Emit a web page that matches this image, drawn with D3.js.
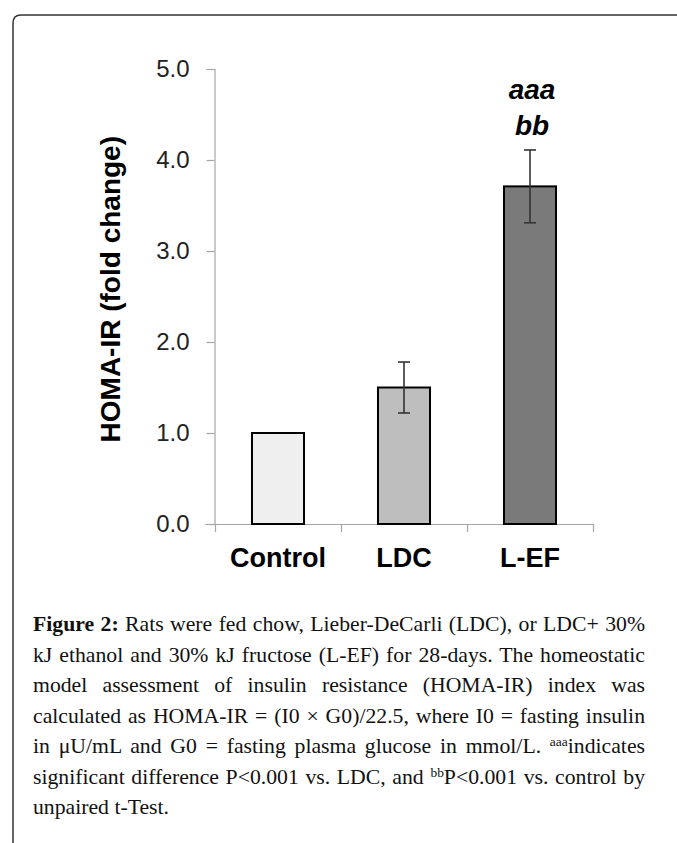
<!DOCTYPE html>
<html>
<head>
<meta charset="utf-8">
<script src="https://cdn.jsdelivr.net/npm/d3@7"></script>
<style>
  body { margin: 0; background: #fff; }
  svg { display: block; }
</style>
</head>
<body>
<svg width="677" height="843"></svg>
<script>
// chart data
var categories = ["Control", "LDC", "L-EF"];
var means = [1.0, 1.5, 3.71];
var errors = [0, 0.28, 0.4];
var fills = ["#efefef", "#bebebe", "#7a7a7a"];
var yTicks = [0, 1, 2, 3, 4, 5];
var sigMarks = ["", "", "aaa|bb"];

// caption, one entry per printed line
var captionLines = [
  [{t: "Figure 2:", b: true}, {t: " Rats were fed chow, Lieber-DeCarli (LDC), or LDC+ 30%"}],
  [{t: "kJ ethanol and 30% kJ fructose (L-EF) for 28-days. The homeostatic"}],
  [{t: "model assessment of insulin resistance (HOMA-IR) index was"}],
  [{t: "calculated as HOMA-IR = (I0 \u00d7 G0)/22.5, where I0 = fasting insulin"}],
  [{t: "in \u03bcU/mL and G0 = fasting plasma glucose in mmol/L. "}, {t: "aaa", sup: true}, {t: "indicates"}],
  [{t: "significant difference P<0.001 vs. LDC, and "}, {t: "bb", sup: true}, {t: "P<0.001 vs. control by"}],
  [{t: "unpaired t-Test."}]
];

var svg = d3.select("svg");

// frame round the figure (open on right and bottom)
svg.append("path")
  .attr("d", "M13,843 L13,23 Q13,15 21,15 L677,15")
  .attr("fill", "none")
  .attr("stroke", "#333")
  .attr("stroke-width", 1.5);

var y = d3.scaleLinear().domain([0, 5]).range([524, 69]);
var xAxisBand = d3.scaleBand().domain(categories).range([215, 593]);
var x = d3.scaleBand().domain(categories).range([215, 593])
  .paddingInner(0.587).paddingOuter(0.2935);

var axisColor = "#a6a6a6";

// y axis
var yAxis = svg.append("g")
  .attr("transform", "translate(214.5,0)")
  .call(d3.axisLeft(y).tickValues(yTicks).tickFormat(d3.format(".1f")).tickSize(8).tickPadding(17));
yAxis.select(".domain").attr("stroke", axisColor).attr("stroke-width", 1.2);
yAxis.selectAll(".tick line").attr("stroke", axisColor).attr("stroke-width", 1.2);
yAxis.selectAll(".tick text")
  .attr("fill", "#222")
  .style("font-family", "'Liberation Sans', Arial, sans-serif")
  .style("font-size", "24px");

// x axis with ticks at band edges
var edges = categories.map(function(c){ return xAxisBand(c); }).concat([xAxisBand.range()[1]]);
svg.append("line")
  .attr("x1", 205).attr("x2", xAxisBand.range()[1])
  .attr("y1", y(0) + 0.5).attr("y2", y(0) + 0.5)
  .attr("stroke", axisColor).attr("stroke-width", 1.2);
svg.selectAll(".xtick")
  .data(edges)
  .enter()
  .append("line")
  .attr("class", "xtick")
  .attr("x1", function(d){ return d + 0.5; })
  .attr("x2", function(d){ return d + 0.5; })
  .attr("y1", y(0))
  .attr("y2", y(0) + 8)
  .attr("stroke", axisColor).attr("stroke-width", 1.2);

svg.selectAll(".xlabel")
  .data(categories)
  .enter()
  .append("text")
  .attr("class", "xlabel")
  .attr("x", function(d){ return xAxisBand(d) + xAxisBand.bandwidth() / 2; })
  .attr("y", 567)
  .attr("text-anchor", "middle")
  .style("font-family", "'Liberation Sans', Arial, sans-serif")
  .style("font-weight", "bold")
  .style("font-size", "27px")
  .text(function(d){ return d; });

// y title
svg.append("text")
  .attr("transform", "translate(120," + y(2.58) + ") rotate(-90)")
  .attr("text-anchor", "middle")
  .style("font-family", "'Liberation Sans', Arial, sans-serif")
  .style("font-weight", "bold")
  .style("font-size", "28px")
  .text("HOMA-IR (fold change)");

// bars
svg.selectAll(".bar")
  .data(categories)
  .enter()
  .append("rect")
  .attr("class", "bar")
  .attr("x", function(d){ return x(d); })
  .attr("width", x.bandwidth())
  .attr("y", function(d, i){ return y(means[i]); })
  .attr("height", function(d, i){ return y(0) - y(means[i]); })
  .attr("fill", function(d, i){ return fills[i]; })
  .attr("stroke", "#000")
  .attr("stroke-width", 2);

// error bars
var errG = svg.selectAll(".err")
  .data(categories.filter(function(d, i){ return errors[i] > 0; }))
  .enter()
  .append("g")
  .attr("class", "err")
  .attr("stroke", "#333")
  .attr("stroke-width", 1.6);
function idx(d){ return categories.indexOf(d); }
function cx(d){ return x(d) + x.bandwidth() / 2; }
errG.append("line")
  .attr("x1", cx).attr("x2", cx)
  .attr("y1", function(d){ return y(means[idx(d)] + errors[idx(d)]); })
  .attr("y2", function(d){ return y(means[idx(d)] - errors[idx(d)]); });
errG.selectAll(".cap")
  .data(function(d){ return [[d, 1], [d, -1]]; })
  .enter()
  .append("line")
  .attr("x1", function(p){ return cx(p[0]) - 6; })
  .attr("x2", function(p){ return cx(p[0]) + 6; })
  .attr("y1", function(p){ return y(means[idx(p[0])] + p[1] * errors[idx(p[0])]); })
  .attr("y2", function(p){ return y(means[idx(p[0])] + p[1] * errors[idx(p[0])]); });

// significance letters
categories.forEach(function(c, i){
  if (!sigMarks[i]) return;
  var parts = sigMarks[i].split("|");
  var top = y(means[i] + errors[i]);
  parts.forEach(function(p, j){
    svg.append("text")
      .attr("x", cx(c) + 2)
      .attr("y", top - 15 - (parts.length - 1 - j) * 36)
      .attr("text-anchor", "middle")
      .style("font-family", "'Liberation Sans', Arial, sans-serif")
      .style("font-weight", "bold")
      .style("font-style", "italic")
      .style("font-size", "28px")
      .text(p);
  });
});

// caption, justified line by line
var capLeft = 33, capRight = 645, capTop = 631, capStep = 30.5;
var capSize = 21;
var capTexts = [];
captionLines.forEach(function(line, i){
  var t = svg.append("text")
    .attr("x", capLeft)
    .attr("y", capTop + i * capStep)
    .style("font-family", "'Liberation Serif', 'Times New Roman', serif")
    .attr("fill", "#111");
  line.forEach(function(seg){
    var ts = t.append("tspan").text(seg.t);
    if (seg.b) ts.style("font-weight", "bold");
    if (seg.sup) ts.attr("dy", -7).attr("class", "sup");
  });
  // undo the superscript shift on the next span
  t.selectAll("tspan").each(function(d, k){
    if (k > 0 && line[k - 1].sup) d3.select(this).attr("dy", 7);
  });
  capTexts.push(t);
});

function setCapSize(s){
  capTexts.forEach(function(t){
    t.style("font-size", s + "px");
    t.selectAll("tspan.sup").style("font-size", (s * 0.62) + "px");
  });
}
// grow the type until the widest line nearly fills the measure
setCapSize(capSize);
var widest = d3.max(capTexts, function(t){ return t.node().getComputedTextLength(); });
capSize = capSize * (capRight - capLeft) * 0.985 / widest;
setCapSize(capSize);

capTexts.forEach(function(t, i){
  if (i === capTexts.length - 1) return;
  var full = captionLines[i].map(function(s){ return s.t; }).join("");
  var spaces = (full.match(/ /g) || []).length;
  var w = t.node().getComputedTextLength();
  if (spaces > 0) t.style("word-spacing", ((capRight - capLeft - w) / spaces) + "px");
});
</script>
</body>
</html>
